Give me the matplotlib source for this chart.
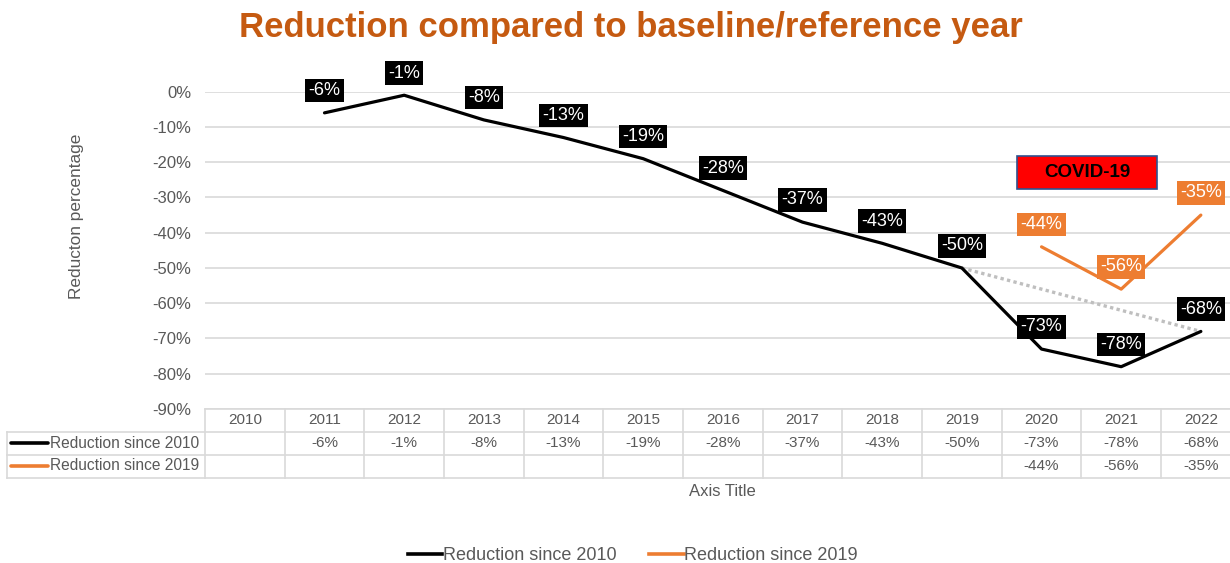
import numpy as np
import matplotlib.pyplot as plt
import matplotlib.transforms as mtransforms
from matplotlib.lines import Line2D
from matplotlib.patches import Rectangle
from matplotlib.ticker import FuncFormatter

plt.rcParams['font.family'] = ['Liberation Sans', 'DejaVu Sans']

years = ['2010', '2011', '2012', '2013', '2014', '2015', '2016',
         '2017', '2018', '2019', '2020', '2021', '2022']
since_2010 = [np.nan, -0.06, -0.01, -0.08, -0.13, -0.19, -0.28,
              -0.37, -0.43, -0.50, -0.73, -0.78, -0.68]
since_2019 = [np.nan] * 10 + [-0.44, -0.56, -0.35]
series_names = ['Reduction since 2010', 'Reduction since 2019']
y_ticks = [0, -0.1, -0.2, -0.3, -0.4, -0.5, -0.6, -0.7, -0.8, -0.9]

BLACK = '#000000'
ORANGE = '#ED7D31'
GRID = '#D9D9D9'
TXT = '#595959'

W, H = 1230, 563
fig = plt.figure(figsize=(W / 100, H / 100), dpi=100)


def fx(px):
    return px / W


def fy(py):
    return 1 - py / H


ax = fig.add_axes([fx(205), fy(409), fx(1240.7) - fx(205), fy(91.7) - fy(409)])
x = np.arange(len(years))

# dotted trend between 2019 and 2022
i19, i22 = years.index('2019'), years.index('2022')
ax.plot([i19, i22], [since_2010[i19], since_2010[i22]], color='#BFBFBF',
        lw=2.4, linestyle=(0, (1, 1)), dash_capstyle='butt', zorder=2)
ax.plot(x, since_2010, color=BLACK, lw=2.3, solid_capstyle='round', zorder=3)
ax.plot(x, since_2019, color=ORANGE, lw=2.3, solid_capstyle='round', zorder=3)

for vals, bg in [(since_2010, BLACK), (since_2019, ORANGE)]:
    for i, v in enumerate(vals):
        if np.isnan(v):
            continue
        ax.annotate(f"{round(v * 100):d}%", (i, v), xytext=(0, 16),
                    textcoords='offset points', ha='center', va='center',
                    color='white', fontsize=13, zorder=5,
                    bbox=dict(boxstyle='square,pad=0.18', fc=bg, ec='none'))

# COVID-19 box
ax.add_patch(Rectangle((9.69, -0.276), 1.76, 0.093, fc='#FF0000',
                       ec='#2F528F', lw=1.2, zorder=4, clip_on=False))
ax.text(9.69 + 0.88, -0.2295, 'COVID-19', ha='center', va='center',
        fontsize=13.5, fontweight='bold', color='black', zorder=5)

ax.set_xlim(-0.5, len(years) - 0.5)
ax.set_ylim(-0.9, 0)
ax.set_yticks(y_ticks)
ax.yaxis.set_major_formatter(FuncFormatter(lambda v, _: f"{round(v * 100):d}%"))
ax.tick_params(axis='y', length=0, pad=10, labelsize=12, labelcolor=TXT)
ax.set_xticks([])
ax.yaxis.grid(True, color=GRID, lw=1.2)
ax.set_axisbelow(True)
for s in ax.spines.values():
    s.set_visible(False)

# data table under the chart
trans = mtransforms.blended_transform_factory(ax.transData, fig.transFigure)
row_edges = [409, 431.5, 454.5, 477.5]
row_mid = [(row_edges[k] + row_edges[k + 1]) / 2 for k in range(3)]
tbl_kw = dict(color=GRID, lw=1.2, clip_on=False)
fig.add_artist(Line2D([fx(205), 1], [fy(409)] * 2, **tbl_kw))
for yy in row_edges[1:]:
    fig.add_artist(Line2D([fx(7), 1], [fy(yy)] * 2, **tbl_kw))
fig.add_artist(Line2D([fx(7)] * 2, [fy(431.5), fy(477.5)], **tbl_kw))
for i in range(len(years) + 1):
    ax.plot([i - 0.5] * 2, [fy(409), fy(477.5)], transform=trans, **tbl_kw)

for i, yr in enumerate(years):
    ax.text(i, fy(row_mid[0]), yr, transform=trans, ha='center', va='center',
            fontsize=11, color=TXT)
for r, (vals, col, name) in enumerate(zip([since_2010, since_2019],
                                          [BLACK, ORANGE], series_names)):
    ym = fy(row_mid[r + 1])
    fig.add_artist(Line2D([fx(11), fx(48)], [ym, ym], color=col, lw=2.6,
                          solid_capstyle='round'))
    fig.text(fx(50), ym, name, ha='left', va='center', fontsize=11.2, color=TXT)
    for i, v in enumerate(vals):
        if np.isnan(v):
            continue
        ax.text(i, ym, f"{round(v * 100):d}%", transform=trans, ha='center',
                va='center', fontsize=11, color=TXT)

fig.text(fx(631), fy(28), 'Reduction compared to baseline/reference year',
         ha='center', va='center', fontsize=25, fontweight='bold',
         color='#C55A11')
fig.text(fx(76), fy(216), 'Reducton percentage', rotation=90, ha='center',
         va='center', fontsize=12.4, color=TXT)
fig.text(fx(722), fy(491), 'Axis Title', ha='center', va='center',
         fontsize=12, color=TXT)

handles = [Line2D([], [], color=BLACK, lw=2.6), Line2D([], [], color=ORANGE, lw=2.6)]
fig.legend(handles, series_names, loc='center', bbox_to_anchor=(fx(633), fy(556)),
           ncol=2, frameon=False, fontsize=13, labelcolor=TXT,
           handlelength=1.9, handletextpad=0.05, columnspacing=1.8)

fig.savefig('out.png', dpi=100)
